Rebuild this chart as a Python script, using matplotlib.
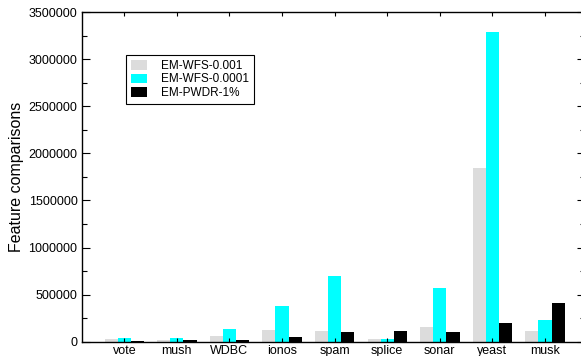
import matplotlib
matplotlib.use("Agg")
import matplotlib.pyplot as plt
import numpy as np
from matplotlib.ticker import MultipleLocator, FuncFormatter

plt.rcParams['font.family'] = ['Liberation Sans', 'DejaVu Sans']

categories = ["vote", "mush", "WDBC", "ionos", "spam", "splice", "sonar", "yeast", "musk"]
series_names = ["EM-WFS-0.001", "EM-WFS-0.0001", "EM-PWDR-1%"]
wfs_001 = [25000, 18000, 64000, 127000, 117000, 29000, 153000, 1839000, 117000]
wfs_0001 = [36000, 39000, 131000, 382000, 694000, 25000, 573000, 3288000, 227000]
pwdr_1 = [8000, 21000, 21000, 47000, 106000, 113000, 106000, 198000, 410000]
colors = ["#dcdcdc", "#00ffff", "#000000"]

W, H = 581, 356
fig = plt.figure(figsize=(W / 100, H / 100), dpi=100)
ax = fig.add_axes([81.7 / W, (H - 341.7) / H, (585 - 81.7) / W, (341.7 - 12) / H])

x = np.arange(len(categories))
bw = 0.25
for i, (vals, name, c) in enumerate(zip([wfs_001, wfs_0001, pwdr_1], series_names, colors)):
    ax.bar(x + (i - 1) * bw, vals, bw, color=c, label=name, linewidth=0)

ax.set_xlim(-0.81, 8.76)
ax.set_ylim(0, 3500000)
ax.set_xticks(x)
ax.set_xticklabels(categories, fontsize=9)
ax.yaxis.set_major_locator(MultipleLocator(500000))
ax.yaxis.set_minor_locator(MultipleLocator(250000))
ax.yaxis.set_major_formatter(FuncFormatter(lambda v, p: f"{int(round(v))}"))
ax.tick_params(axis='y', which='major', direction='in', length=5.8, width=0.8, labelsize=9, right=True, pad=3)
ax.tick_params(axis='y', which='minor', direction='in', length=3.5, width=0.8, right=True)
ax.tick_params(axis='x', which='major', direction='in', length=3, width=0.8, top=True, pad=2.5)
for s in ax.spines.values():
    s.set_linewidth(1.0)

ax.set_ylabel("Feature comparisons", fontsize=11.5)
ax.yaxis.set_label_coords(-(81.7 - 24) / (585 - 81.7), 0.5)

leg = ax.legend(loc='upper left', bbox_to_anchor=(126 / W, 1 - 55 / H), bbox_transform=fig.transFigure,
                borderaxespad=0, fontsize=8.5, frameon=True, fancybox=False, framealpha=1,
                edgecolor='black', handlelength=1.4, handleheight=0.9, labelspacing=0.15,
                handletextpad=1.2, borderpad=0.4)
leg.get_frame().set_linewidth(0.8)

fig.savefig("out.png", dpi=100)
